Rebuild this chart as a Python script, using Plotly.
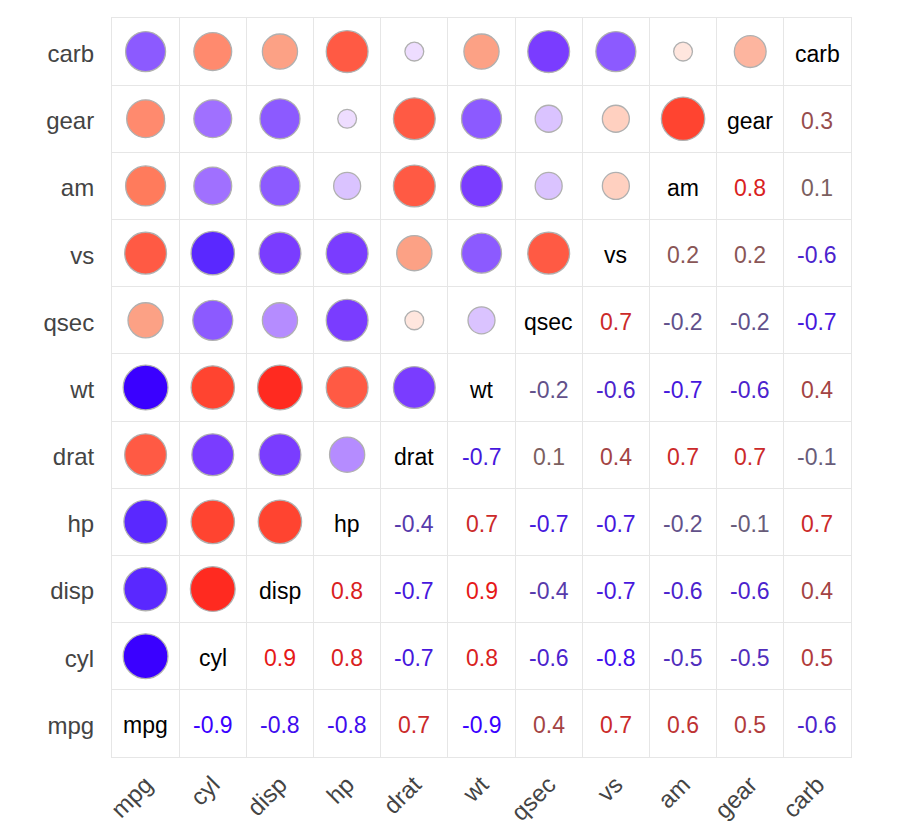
import math
import plotly.graph_objects as go
from plotly.colors import sample_colorscale

variables = ["mpg", "cyl", "disp", "hp", "drat", "wt", "qsec", "vs", "am", "gear", "carb"]

# rounded correlations (upper triangle, row variable vs later variables)
r_mpg = [-0.9, -0.8, -0.8, 0.7, -0.9, 0.4, 0.7, 0.6, 0.5, -0.6]
r_cyl = [0.9, 0.8, -0.7, 0.8, -0.6, -0.8, -0.5, -0.5, 0.5]
r_disp = [0.8, -0.7, 0.9, -0.4, -0.7, -0.6, -0.6, 0.4]
r_hp = [-0.4, 0.7, -0.7, -0.7, -0.2, -0.1, 0.7]
r_drat = [-0.7, 0.1, 0.4, 0.7, 0.7, -0.1]
r_wt = [-0.2, -0.6, -0.7, -0.6, 0.4]
r_qsec = [0.7, -0.2, -0.2, -0.7]
r_vs = [0.2, 0.2, -0.6]
r_am = [0.8, 0.1]
r_gear = [0.3]
r_carb = []

rows = [r_mpg, r_cyl, r_disp, r_hp, r_drat, r_wt, r_qsec, r_vs, r_am, r_gear, r_carb]
n = len(variables)
M = [[1.0] * n for _ in range(n)]
for i, row in enumerate(rows):
    for k, v in enumerate(row):
        j = i + 1 + k
        M[i][j] = v
        M[j][i] = v

cmin, cmax = -0.9, 0.9

# colour stops given by correlation value
circle_stops = [
    (-0.9, "rgb(58,0,255)"), (-0.8, "rgb(90,40,255)"), (-0.7, "rgb(122,60,255)"),
    (-0.6, "rgb(140,90,255)"), (-0.5, "rgb(160,112,255)"), (-0.4, "rgb(181,140,255)"),
    (-0.2, "rgb(218,195,255)"), (-0.1, "rgb(238,221,255)"), (0.0, "rgb(255,255,255)"),
    (0.1, "rgb(255,230,222)"), (0.2, "rgb(255,208,192)"), (0.3, "rgb(253,181,159)"),
    (0.4, "rgb(252,161,133)"), (0.5, "rgb(255,138,110)"), (0.6, "rgb(255,123,92)"),
    (0.7, "rgb(255,90,68)"), (0.8, "rgb(255,68,48)"), (0.9, "rgb(255,42,32)"),
]
circle_scale = [[(v - cmin) / (cmax - cmin), c] for v, c in circle_stops]
text_scale = [
    [0.0, "rgb(58,0,255)"],
    [0.5, "rgb(110,104,104)"],
    [1.0, "rgb(230,24,24)"],
]

cx, cy, cv, csize = [], [], [], []
tx, ty, tv, tcol = [], [], [], []
for xi in range(n):
    for yi in range(n):
        v = M[xi][yi]
        if yi > xi:
            cx.append(xi); cy.append(yi); cv.append(v)
            csize.append(46 + 11.8 * math.log(abs(v)))
        elif yi < xi:
            tx.append(xi); ty.append(yi); tv.append(f"{v:.1f}")
            tcol.append(sample_colorscale(text_scale, [(v - cmin) / (cmax - cmin)])[0])

fig = go.Figure()
fig.add_trace(go.Scatter(
    x=cx, y=cy, mode="markers",
    marker=dict(size=csize, color=cv, colorscale=circle_scale, cmin=cmin, cmax=cmax,
                line=dict(color="#b0b0b0", width=1.3), opacity=1),
    hoverinfo="skip", showlegend=False,
))

font_family = "Liberation Sans, Arial"
annotations = []
for x, y, t, c in zip(tx, ty, tv, tcol):
    annotations.append(dict(x=x, y=y, text=t, showarrow=False, yshift=-2,
                            font=dict(family=font_family, size=23, color=c)))
for i, name in enumerate(variables):
    annotations.append(dict(x=i, y=i, text=name, showarrow=False, yshift=-2,
                            font=dict(family=font_family, size=23, color="black")))

edges = [i - 0.5 for i in range(n + 1)]
axis_common = dict(
    range=[-0.5, n - 0.5], tickmode="array", tickvals=list(range(n)), ticktext=variables,
    showgrid=False, zeroline=False, showline=True, linecolor="#e6e6e6", linewidth=1, mirror=True,
    minor=dict(tickvals=edges, showgrid=True, gridcolor="#e6e6e6", gridwidth=1),
    tickfont=dict(family=font_family, size=24, color="#444"),
    fixedrange=True,
)
fig.update_layout(
    width=900, height=840,
    margin=dict(l=104, r=57, t=10, b=91),
    paper_bgcolor="white", plot_bgcolor="white",
    xaxis=dict(**axis_common, tickangle=-45, ticklabelstandoff=3),
    yaxis=dict(**axis_common, ticklabelstandoff=12, ticklabelshift=2),
    annotations=annotations,
)
fig.write_html("out.html")
